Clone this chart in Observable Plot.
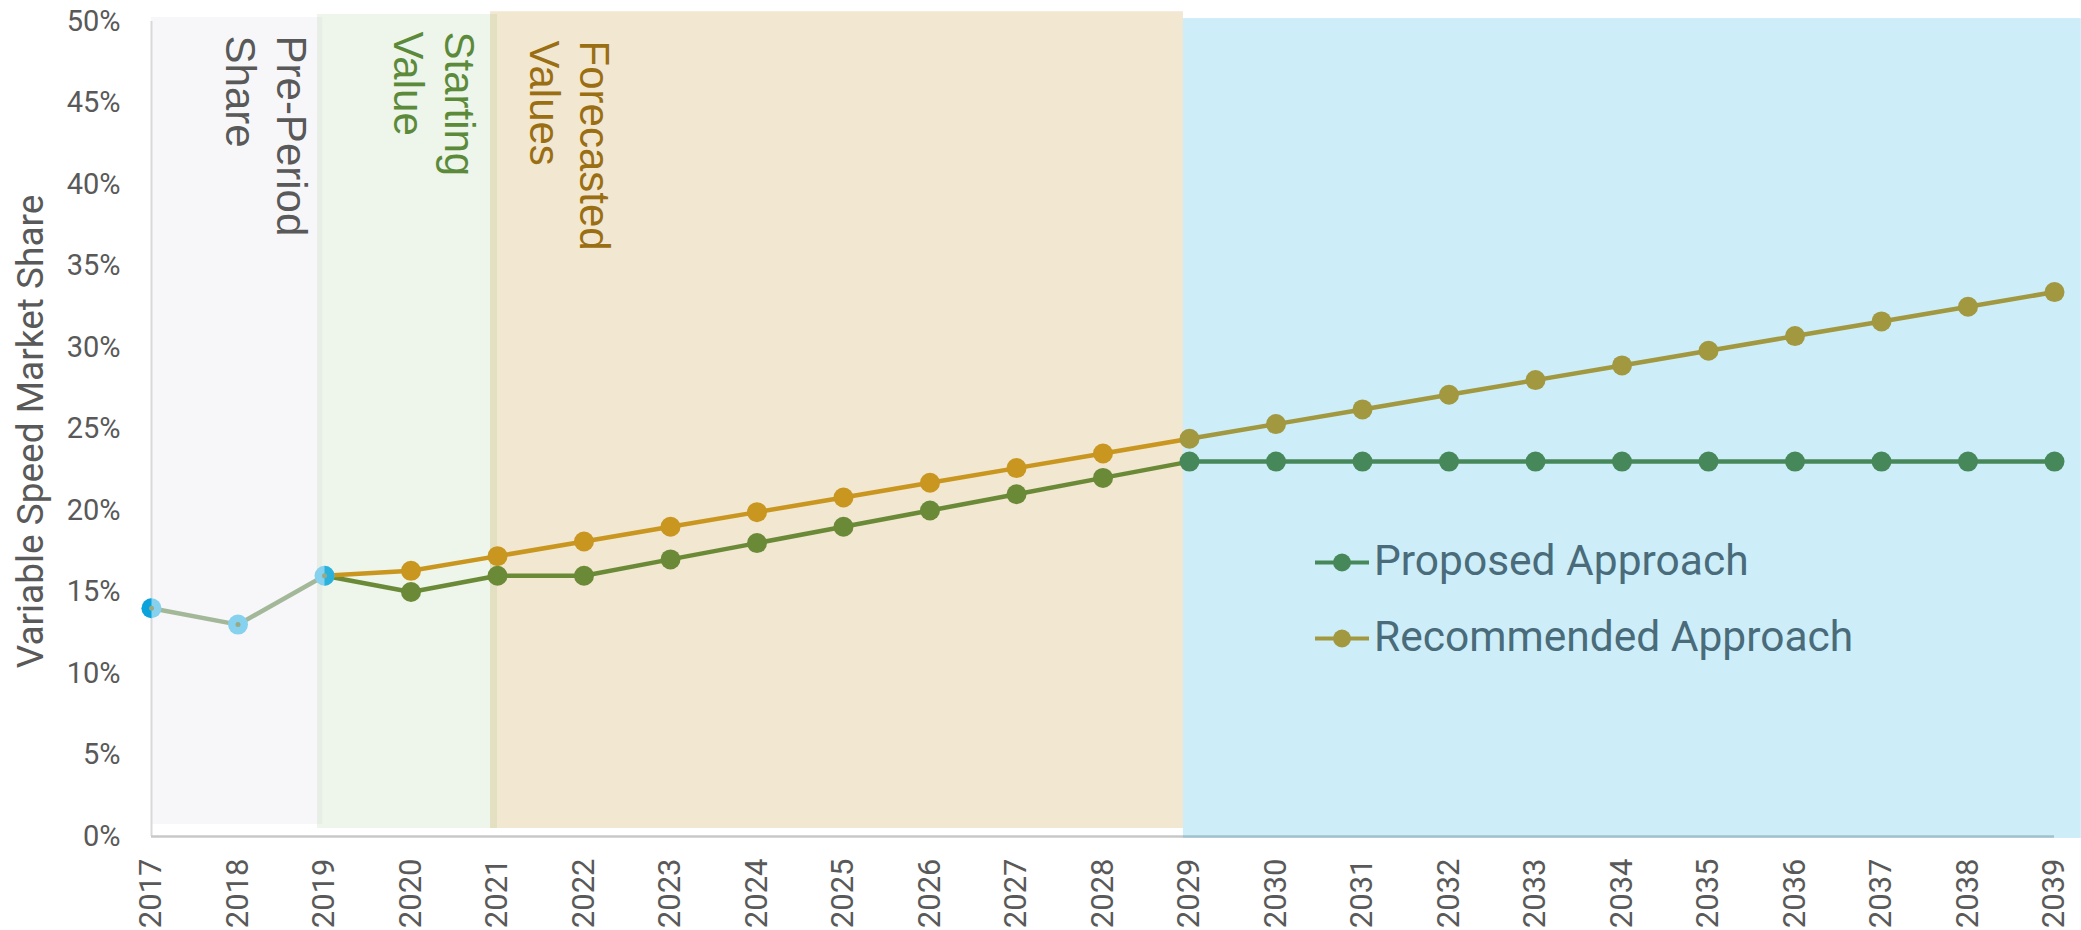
<!DOCTYPE html>
<html><head><meta charset="utf-8">
<script src="https://cdn.jsdelivr.net/npm/d3@7"></script>
<script src="https://cdn.jsdelivr.net/npm/@observablehq/plot@0.6"></script>
<style>
body{margin:0;background:#fff;}
#wrap{position:relative;width:2081px;height:930px;overflow:hidden;}
.lg{position:absolute;left:1315px;height:42px;display:flex;align-items:flex-start;font-family:Roboto;font-size:42.5px;line-height:42px;color:#4a6b7a;white-space:nowrap;}
.lg svg{margin-right:5px;}
</style></head>
<body><div id="wrap"></div>
<script>
// ---- data ----
const years = [2017,2018,2019,2020,2021,2022,2023,2024,2025,2026,2027,2028,2029,2030,2031,2032,2033,2034,2035,2036,2037,2038,2039];
const yTicks = [0,5,10,15,20,25,30,35,40,45,50];
const historicalYears = [2017,2018,2019];
const historicalShare = [14,13,16];
const forecastYears = [2019,2020,2021,2022,2023,2024,2025,2026,2027,2028,2029,2030,2031,2032,2033,2034,2035,2036,2037,2038,2039];
const proposedShare = [16,15,16,16,17,18,19,20,21,22,23,23,23,23,23,23,23,23,23,23,23];
const recommendedShare = [16,16.3,17.2,18.1,19.0,19.9,20.8,21.7,22.6,23.5,24.4,25.3,26.2,27.1,28.0,28.9,29.8,30.7,31.6,32.5,33.4];
const periodNames = ["Pre-Period\nShare","Starting\nValue","Forecasted\nValues","Long Term"];
const periodStart = [2017.0,2018.92,2020.92,2028.93];
const periodEnd = [2018.98,2021.0,2028.93,2039.31];
const splitYear = 2029;
const seriesNames = ["Proposed Approach","Recommended Approach"];

// ---- build tables ----
const hist = historicalYears.map((y,i)=>({year:y, v:historicalShare[i]}));
const prop = forecastYears.map((y,i)=>({year:y, v:proposedShare[i]}));
const rec = forecastYears.map((y,i)=>({year:y, v:recommendedShare[i]}));
const near = d => d.year <= splitYear;
const far = d => d.year >= splitYear;
const regions = periodNames.map((n,i)=>({name:n, x1:periodStart[i], x2:periodEnd[i]}));

const C = {
  pre:"#f7f7fa", start:"#8fbf6f", fore:"#f2e7d1", blue:"rgba(5,170,225,0.2)",
  hist:"#a3b899", histDot:"#86d1ee",
  propNear:"#6b8a37", propFar:"#47885a",
  recNear:"#c99620", recFar:"#a19840"
};

const halfLeft = {draw(ctx,size){const r=Math.sqrt(size/Math.PI);ctx.moveTo(0,-r);ctx.arc(0,0,r,-Math.PI/2,Math.PI/2,true);ctx.closePath();}};
const halfRight = {draw(ctx,size){const r=Math.sqrt(size/Math.PI);ctx.moveTo(0,-r);ctx.arc(0,0,r,-Math.PI/2,Math.PI/2,false);ctx.closePath();}};

const labelRows = [
  {name:periodNames[0], x:2017.867, y:49.14, fill:"#595959"},
  {name:periodNames[1], x:2019.798, y:49.39, fill:"#5b8a3a"},
  {name:periodNames[2], x:2021.370, y:48.83, fill:"#9a6e12"}
];

const chart = Plot.plot({
  width:2081, height:930,
  marginLeft:151, marginRight:27, marginTop:21, marginBottom:94,
  style:{background:"white", color:"#595959", fontFamily:"Roboto"},
  x:{type:"linear", domain:[2017,2039]},
  y:{domain:[0,50]},
  marks:[
    Plot.rectY([regions[2]], {x1:"x1", x2:"x2", y1:0.49, y2:50.6, fill:C.fore}),
    Plot.rectY([regions[0]], {x1:"x1", x2:"x2", y1:0.74, y2:50.25, fill:C.pre}),
    Plot.rectY([regions[1]], {x1:"x1", x2:"x2", y1:0.49, y2:50.43, fill:C.start, fillOpacity:0.15}),
    Plot.ruleX([2017], {y1:0, y2:50, stroke:"#d9d9d9", strokeWidth:2}),
    Plot.ruleY([0], {x1:2017, x2:2039, stroke:"#c8c8c8", strokeWidth:2.5}),
    Plot.rectY([regions[3]], {x1:"x1", x2:"x2", y1:-0.12, y2:50.18, fill:C.blue}),
    Plot.axisX({ticks:years, tickFormat:d=>String(d), tickRotate:-90, tickSize:0, tickPadding:22, fontSize:31, label:null, fill:"#595959"}),
    Plot.axisY({ticks:yTicks, tickFormat:d=>d+"%", tickSize:0, tickPadding:31, fontSize:29, label:null, fill:"#595959"}),
    Plot.text(["Variable Speed Market Share"], {frameAnchor:"left", rotate:-90, textAnchor:"middle", lineAnchor:"bottom", dx:-109, dy:2.5, fontSize:37, fill:"#595959", fontFamily:"Roboto"}),
    Plot.text(labelRows, {x:"x", y:"y", text:"name", fill:"fill", rotate:90, textAnchor:"start", lineAnchor:"bottom", lineHeight:1.214, fontSize:42, fontFamily:"Liberation Sans"}),
    // lines
    Plot.line(hist, {x:"year", y:"v", stroke:C.hist, strokeWidth:4.5}),
    Plot.line(prop.filter(near), {x:"year", y:"v", stroke:C.propNear, strokeWidth:4.5}),
    Plot.line(rec.filter(near), {x:"year", y:"v", stroke:C.recNear, strokeWidth:4.5}),
    Plot.line(prop.filter(far), {x:"year", y:"v", stroke:C.propFar, strokeWidth:4.5}),
    Plot.line(rec.filter(far), {x:"year", y:"v", stroke:C.recFar, strokeWidth:4.5}),
    // dots
    Plot.dot(prop.filter(d=>d.year>2019 && d.year<splitYear), {x:"year", y:"v", r:10, fill:C.propNear}),
    Plot.dot(rec.filter(d=>d.year>2019 && d.year<splitYear), {x:"year", y:"v", r:10, fill:C.recNear}),
    Plot.dot(prop.filter(d=>d.year>=splitYear), {x:"year", y:"v", r:10, fill:C.propFar}),
    Plot.dot(rec.filter(d=>d.year>=splitYear), {x:"year", y:"v", r:10, fill:C.recFar}),
    Plot.dot(hist, {x:"year", y:"v", r:10, fill:C.histDot}),
    Plot.dot(hist.filter(d=>d.year===historicalYears[0]), {x:"year", y:"v", r:10, symbol:halfLeft, fill:"#0ba3dc"}),
    Plot.dot(hist.filter(d=>d.year===historicalYears[2]), {x:"year", y:"v", r:10, symbol:halfRight, fill:"#2bb2dc"}),
    Plot.dot(hist, {x:"year", y:"v", r:2.5, fill:"#98a985"})
  ]
});
const wrap = document.getElementById("wrap");
wrap.appendChild(chart);

// legend (overlay)
const legendColors = [C.propFar, C.recFar];
const legendTops = [540, 616];
seriesNames.forEach((n,i)=>{
  const div = document.createElement("div");
  div.className = "lg";
  div.style.top = legendTops[i] + "px";
  div.innerHTML = `<svg width="54" height="42"><line x1="0" x2="54" y1="22.5" y2="22.5" stroke="${legendColors[i]}" stroke-width="4"/><circle cx="27" cy="22.5" r="9" fill="${legendColors[i]}"/></svg><span>${n}</span>`;
  wrap.appendChild(div);
});
</script>
</body></html>
